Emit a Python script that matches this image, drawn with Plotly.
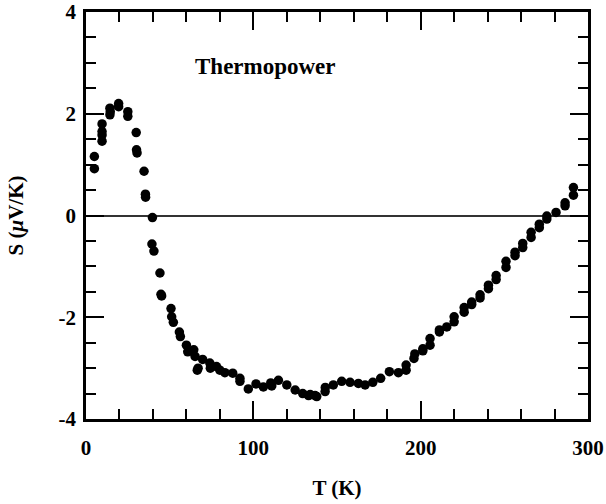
import plotly.graph_objects as go

# Temperature (K) and thermopower S (µV/K)
T = [5, 5, 9.6, 9.6, 9.6, 9.6, 14.3, 14.3, 14.5, 19.5, 19.5, 25, 25, 30, 30.2, 30.5,
     34.7, 35.5, 35.6, 39.7, 39.4, 40.6, 44.2, 44.8, 45.2, 50.8, 51.2, 52.2, 55.8, 56.4,
     60, 60.8, 64.4, 65.2, 66.5, 67, 69.7, 74, 74.3, 78, 80, 83, 87.7, 92, 92, 97,
     101.6, 106, 110.4, 111, 115, 120, 125, 129.5, 133, 134, 136.9, 137.9, 142.9, 143,
     147.8, 152.8, 157.8, 162.8, 166.8, 171.4, 176.1, 181.3, 186.7, 191.3, 191.3, 196,
     196.5, 201.3, 201.3, 205.6, 205.6, 211.2, 211.2, 215.6, 220, 220, 226, 226, 230.5,
     230.5, 235.5, 235.5, 240.5, 240.5, 245.1, 245.1, 251, 251, 256.4, 256.4, 261, 261,
     266, 266, 270.9, 270.9, 275.4, 275.4, 280.9, 286.3, 286.3, 291.3, 291.3]
S = [1.16, 0.92, 1.80, 1.65, 1.58, 1.46, 2.11, 1.98, 2.04, 2.20, 2.14, 2.04, 1.95, 1.63,
     1.29, 1.23, 0.87, 0.42, 0.36, -0.04, -0.56, -0.70, -1.13, -1.55, -1.58, -1.83, -1.99,
     -2.10, -2.29, -2.38, -2.55, -2.68, -2.64, -2.77, -3.04, -3.00, -2.83, -2.90, -3.00,
     -2.97, -3.04, -3.09, -3.10, -3.20, -3.26, -3.41, -3.31, -3.37, -3.29, -3.35, -3.24,
     -3.33, -3.43, -3.50, -3.54, -3.52, -3.54, -3.56, -3.46, -3.38, -3.33, -3.26, -3.28,
     -3.30, -3.33, -3.28, -3.20, -3.07, -3.09, -3.04, -2.94, -2.81, -2.72, -2.66, -2.62,
     -2.55, -2.42, -2.29, -2.25, -2.19, -2.09, -1.99, -1.90, -1.81, -1.75, -1.70, -1.62,
     -1.56, -1.44, -1.37, -1.26, -1.18, -1.02, -0.90, -0.79, -0.72, -0.63, -0.55, -0.43,
     -0.33, -0.24, -0.17, -0.07, -0.01, 0.06, 0.19, 0.25, 0.40, 0.55]

x_ticks = [0, 100, 200, 300]
x_labels = ["0", "100", "200", "300"]
y_ticks = [-4, -2, 0, 2, 4]
y_labels = ["-4", "-2", "0", "2", "4"]

FONT = "Liberation Serif"

fig = go.Figure()
fig.add_trace(go.Scatter(
    x=T, y=S, mode="markers",
    marker=dict(color="black", size=9.5, line=dict(width=0)),
    showlegend=False, cliponaxis=False,
))

fig.add_annotation(
    x=107.5, y=2.92, xref="x", yref="y", text="<b>Thermopower</b>", showarrow=False,
    font=dict(family=FONT, size=23, color="black"),
)

axis_common = dict(
    showgrid=False, showline=True, linecolor="black", linewidth=2.5, mirror="ticks",
    ticks="inside", ticklen=18, tickwidth=1.8, tickcolor="black",
    tickfont=dict(family=FONT, size=21, color="black", weight="bold"),
    ticklabeloverflow="allow",
)

fig.update_xaxes(
    range=[0, 300], tickvals=x_ticks, ticktext=x_labels, zeroline=False,
    minor=dict(dtick=20, ticks="inside", ticklen=10, tickwidth=1.8, tickcolor="black"),
    title=dict(text="<b>T (K)</b>", font=dict(family=FONT, size=21, color="black"), standoff=22),
    ticklabelstandoff=8,
    **axis_common,
)
fig.update_yaxes(
    range=[-4, 4], tickvals=y_ticks, ticktext=y_labels,
    zeroline=True, zerolinecolor="#333333", zerolinewidth=1.5,
    minor=dict(dtick=0.5, ticks="inside", ticklen=10, tickwidth=1.8, tickcolor="black"),
    title=dict(text="<b>S (<i>μ</i>V/K)</b>", font=dict(family=FONT, size=21, color="black"), standoff=30),
    ticklabelstandoff=3,
    **axis_common,
)

fig.update_layout(
    width=606, height=504,
    margin=dict(l=86, r=18, t=12, b=85, autoexpand=False),
    plot_bgcolor="white", paper_bgcolor="white",
)

fig.write_html("out.html", config={"displayModeBar": False},
               post_script="document.body.style.margin='0';")
